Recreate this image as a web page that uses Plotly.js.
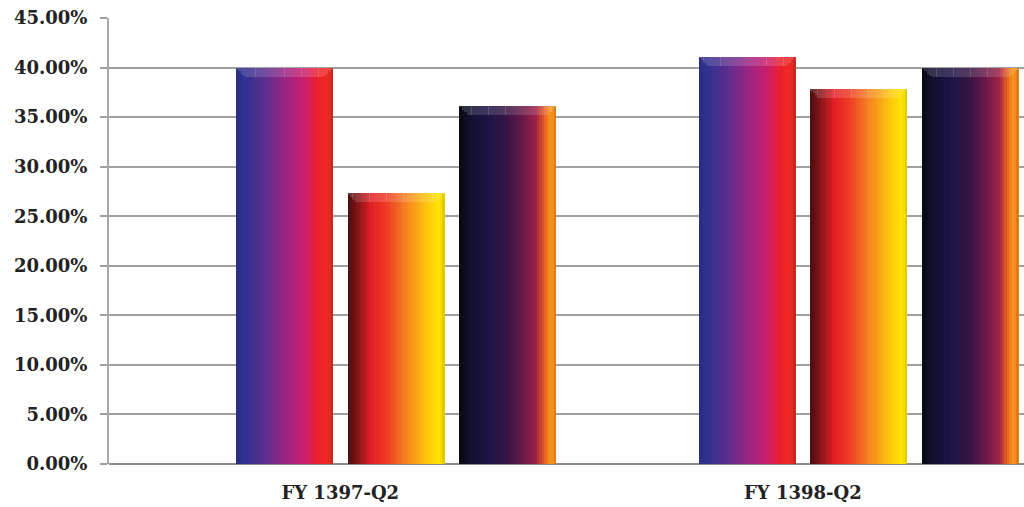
<!DOCTYPE html>
<html>
<head>
<meta charset="utf-8">
<script src="https://cdn.plot.ly/plotly-3.0.1.min.js"></script>
<style>html,body{margin:0;padding:0;background:#fff;}#chart{width:1024px;height:507px;}</style>
</head>
<body>
<div id="chart"></div>
<script>
// ---- data ----
const categories = ['FY 1397-Q2', 'FY 1398-Q2'];
const seriesA = [0.400, 0.411];
const seriesB = [0.273, 0.378];
const seriesC = [0.361, 0.400];
const yTickVals = [0, 0.05, 0.10, 0.15, 0.20, 0.25, 0.30, 0.35, 0.40, 0.45];

// ---- styles ----
const gradA = [[0,'#2A2C83'],[0.08,'#2E3190'],[0.3,'#5E2D8E'],[0.55,'#A4237F'],[0.7,'#C91E6E'],[0.85,'#EE2029'],[0.95,'#EE2A24'],[1,'#B5281F']];
const gradB = [[0,'#4A0E0E'],[0.06,'#6A1112'],[0.25,'#E41F26'],[0.4,'#EE3A24'],[0.6,'#F58220'],[0.8,'#FDC010'],[0.95,'#FFE600'],[1,'#D9C200']];
const gradC = [[0,'#08080C'],[0.08,'#0F0F2A'],[0.3,'#1C1447'],[0.5,'#3A1444'],[0.7,'#7A1B4A'],[0.8,'#A32345'],[0.88,'#E8601F'],[0.93,'#F7941D'],[0.98,'#F08A1C'],[1,'#B86A18']];

function hex2rgb(h){return [parseInt(h.substr(1,2),16),parseInt(h.substr(3,2),16),parseInt(h.substr(5,2),16)];}
function colorAt(stops,t){
  for(let i=0;i<stops.length-1;i++){
    const [p0,c0]=stops[i],[p1,c1]=stops[i+1];
    if(t>=p0&&t<=p1){
      const f=(t-p0)/(p1-p0||1);const a=hex2rgb(c0),b=hex2rgb(c1);
      return 'rgb('+a.map((v,k)=>Math.round(v+(b[k]-v)*f)).join(',')+')';
    }
  }
  return stops[stops.length-1][1];
}

const barWidth = 0.2097;
const seriesDefs = [
  {vals: seriesA, grad: gradA, offset: -0.2255},
  {vals: seriesB, grad: gradB, offset: 0.0158},
  {vals: seriesC, grad: gradC, offset: 0.2573}
];
const N = 40;
const bevel = 0.0091;        // bevel band height in axis units (~9px)
const bevelRatio = 9/97;     // bevel size relative to bar width
const traces = [];
seriesDefs.forEach(s=>{
  const w = barWidth/N;
  for(let i=0;i<N;i++){
    traces.push({
      type:'bar', x:categories, y:s.vals,
      offset: s.offset + i*w, width: w*1.05,
      marker:{color: colorAt(s.grad,(i+0.5)/N), line:{width:0}},
      hoverinfo:'skip', showlegend:false
    });
  }
  for(let i=0;i<N;i++){
    const d = Math.min(i+0.5, N-i-0.5)/N;           // distance to nearest edge (fraction)
    const h = bevel*Math.min(1, d/bevelRatio);
    traces.push({
      type:'bar', x:categories, y:s.vals.map(()=>h), base:s.vals.map(v=>v-h),
      offset: s.offset + i*w, width: w*1.05,
      marker:{color:'rgba(255,255,255,0.15)', line:{width:0}},
      hoverinfo:'skip', showlegend:false
    });
  }
});

const layout = {
  width:1024, height:507,
  margin:{l:109, r:0, t:18, b:43},
  paper_bgcolor:'#fff', plot_bgcolor:'#fff',
  barmode:'overlay', bargap:0,
  showlegend:false,
  font:{family:'DejaVu Serif', color:'#222'},
  xaxis:{
    type:'category', range:[-0.5,1.478],
    showgrid:false, zeroline:false,
    showline:false, ticks:'',
    tickfont:{family:'DejaVu Serif', size:18, weight:'bold', color:'#222'},
    ticklabelstandoff: 16
  },
  yaxis:{
    range:[0,0.45], tickvals:yTickVals, tickformat:'.2%',
    showgrid:true, gridcolor:'#A0A0A0', gridwidth:2,
    zeroline:true, zerolinecolor:'#8C8C8C', zerolinewidth:2,
    showline:true, linecolor:'#A8A8A8', linewidth:2,
    ticks:'outside', ticklen:7, tickcolor:'#A0A0A0', tickwidth:2,
    ticklabelstandoff: 9,
    tickfont:{family:'DejaVu Serif', size:18, weight:'bold', color:'#222'}
  }
};
Plotly.newPlot('chart', traces, layout, {staticPlot:true, displayModeBar:false});
</script>
</body>
</html>
